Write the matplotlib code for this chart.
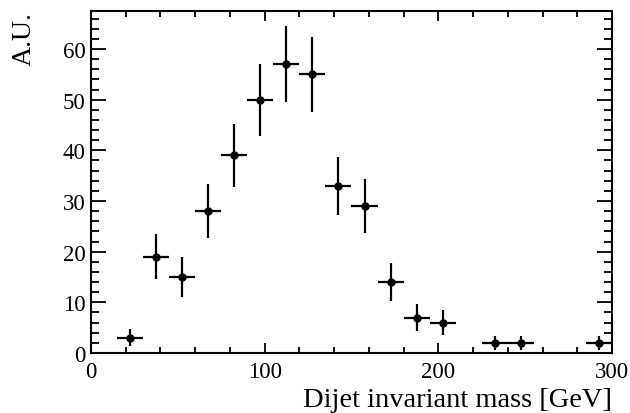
import matplotlib.pyplot as plt
from matplotlib.ticker import MultipleLocator

# Dijet invariant mass histogram (bin centers, counts, errors)
mass = [22.5, 37.5, 52.5, 67.5, 82.5, 97.5, 112.5, 127.5, 142.5, 157.5,
        172.5, 187.5, 202.5, 232.5, 247.5, 292.5]
counts = [3, 19, 15, 28, 39, 50, 57, 55, 33, 29, 14, 7, 6, 2, 2, 2]
err_y = [1.7, 4.4, 3.9, 5.3, 6.2, 7.1, 7.5, 7.4, 5.7, 5.4, 3.7, 2.6, 2.4, 1.4, 1.4, 1.4]
half_bin = 7.5

plt.rcParams['font.family'] = ['Liberation Serif', 'DejaVu Serif']

fig = plt.figure(figsize=(6.3, 4.14), dpi=100)
ax = fig.add_axes([0.1444, 0.1449, 0.827, 0.826])

ax.errorbar(mass, counts, yerr=err_y, xerr=half_bin, fmt='o', color='black',
            markersize=5, elinewidth=1.6, capsize=0)

ax.set_xlim(0, 300)
ax.set_ylim(0, 67.5)
ax.xaxis.set_major_locator(MultipleLocator(100))
ax.xaxis.set_minor_locator(MultipleLocator(20))
ax.yaxis.set_major_locator(MultipleLocator(10))
ax.yaxis.set_minor_locator(MultipleLocator(2))

ax.tick_params(axis='both', which='both', direction='in', top=True, right=True,
               labelsize=16.5, width=1.3)
ax.tick_params(axis='x', which='major', length=7.5, pad=6)
ax.tick_params(axis='x', which='minor', length=4.3)
ax.tick_params(axis='y', which='major', length=10.8, pad=4)
ax.tick_params(axis='y', which='minor', length=5.8)
for s in ax.spines.values():
    s.set_linewidth(1.5)

fig.text(0.9714, 0.003, 'Dijet invariant mass [GeV]', ha='right', va='bottom', fontsize=20.5)
fig.text(0.038, 0.972, 'A.U.', ha='center', va='top', rotation=90, fontsize=20)

plt.savefig('out.png', dpi=100)
